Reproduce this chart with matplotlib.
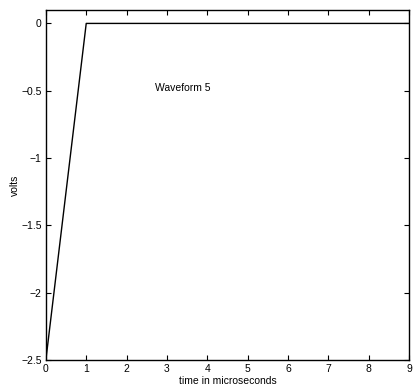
import matplotlib
matplotlib.use("Agg")
import matplotlib.pyplot as plt

plt.rcParams['font.family'] = ['Liberation Sans', 'DejaVu Sans']

# data
t_us = [0, 1, 9]
volts = [-2.5, 0, 0]
xticks = [0, 1, 2, 3, 4, 5, 6, 7, 8, 9]
yticks = [-2.5, -2, -1.5, -1, -0.5, 0]
ytick_labels = ['\u22122.5', '\u22122', '\u22121.5', '\u22121', '\u22120.5', '0']

fig = plt.figure(figsize=(4.17, 3.92), dpi=100)
ax = fig.add_axes([0.110, 0.0816, 0.871, 0.893])

ax.plot(t_us, volts, color='black', lw=1.0)
ax.set_xlim(0, 9)
ax.set_ylim(-2.5, 0.1)
ax.set_xticks(xticks)
ax.set_yticks(yticks)
ax.set_yticklabels(ytick_labels)
ax.tick_params(direction='in', top=True, right=True, labelsize=7.5, length=3.5, width=0.8, pad=3)
for s in ax.spines.values():
    s.set_linewidth(1.0)

ax.set_xlabel('time in microseconds', fontsize=7.5, labelpad=1)
ax.set_ylabel('volts', fontsize=7.5, labelpad=1)
ax.text(2.7, -0.48, 'Waveform 5', fontsize=7.5, ha='left', va='center')

fig.savefig('out.png', dpi=100)
